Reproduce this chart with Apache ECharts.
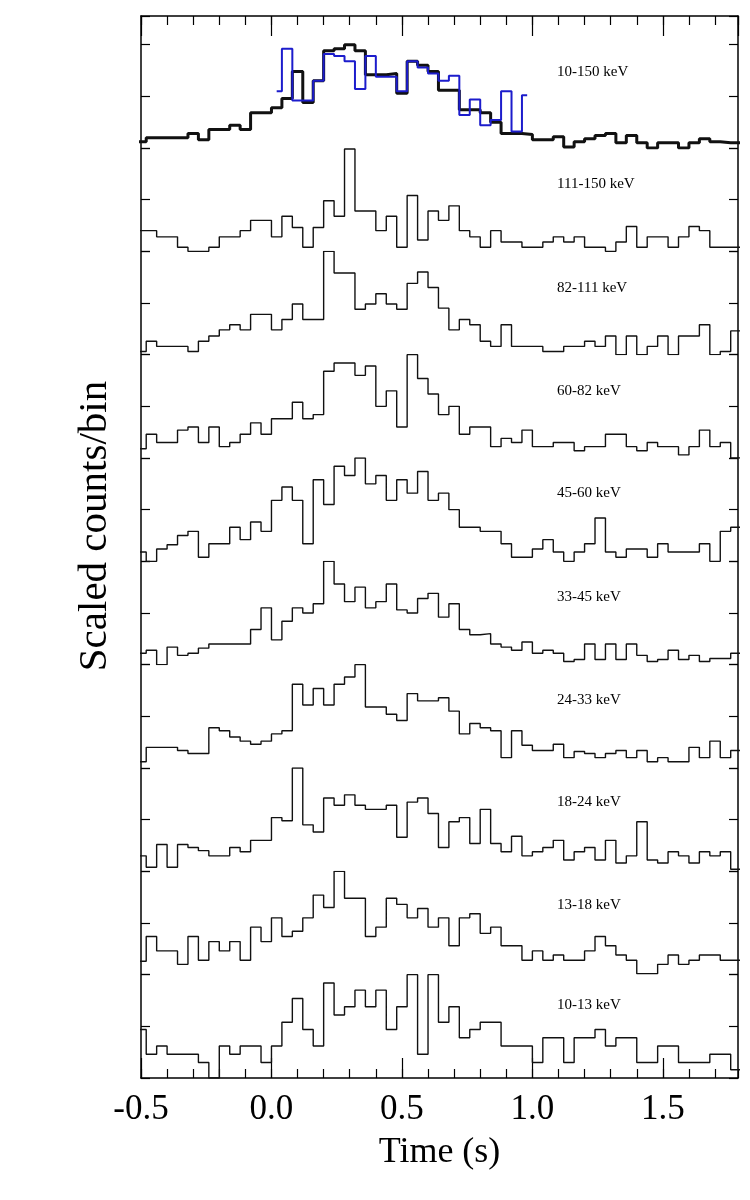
<!DOCTYPE html>
<html><head><meta charset="utf-8">
<script src="https://cdn.jsdelivr.net/npm/echarts@6/dist/echarts.min.js"></script>
<style>html,body{margin:0;padding:0;background:#fff}#c{width:750px;height:1200px}</style>
</head><body><div id="c"></div>
<script>
// ---- data ----
const binStart = -0.52;      // left edge of first bin (s)
const binWidth = 0.04;       // bin width (s)
const blueStart = 0.02;      // centre of first bin of the blue curve (s)
const bandLabels = ['10-150 keV','111-150 keV','82-111 keV','60-82 keV','45-60 keV','33-45 keV','24-33 keV','18-24 keV','13-18 keV','10-13 keV'];
const xTickLabels = ['-0.5','0.0','0.5','1.0','1.5'];
const xTitle = 'Time (s)';
const yTitle = 'Scaled counts/bin';

const lc_10_150 = [6,10,10,10,10,14,8,18,18,22,18,34,34,39,48,74,44,65,94,96,100,94,71,71,72,53,84,80,74,56,56,37,37,34,25,14,14,13,8,8,11,1,6,9,12,14,5,12,5,0,5,5,0,5,9,6,5,5];
const blue_10_150 = [55,96,46,46,65,91,89,84,57,89,69,69,55,84,78,72,65,70,32,47,22,27,55,16,51];
const lc_111_150 = [20,20,14,14,4,0,0,4,14,14,20,30,30,14,34,23,4,23,49,34,99,39,39,20,34,4,54,11,39,30,44,20,14,4,20,9,9,4,4,9,14,9,14,4,4,0,9,24,4,14,14,4,14,24,20,4,4,4];
const lc_82_111 = [3,13,8,8,8,3,13,18,24,29,24,39,39,24,34,49,34,34,100,79,79,44,49,59,49,44,69,80,65,45,24,34,29,13,8,29,8,8,8,3,3,8,8,13,8,18,0,18,0,8,18,0,18,18,29,0,3,23];
const lc_60_82 = [9,23,15,15,27,30,15,30,11,15,23,34,23,38,38,54,38,42,84,92,92,80,89,50,65,30,100,77,62,42,50,23,30,30,11,19,15,27,11,11,15,15,7,11,11,23,23,11,7,15,11,11,3,11,27,11,15,0];
const lc_45_60 = [9,0,12,16,25,29,4,17,17,33,21,38,29,59,72,59,17,79,55,92,83,100,75,83,59,79,66,87,59,66,50,33,33,29,29,17,4,4,12,21,9,0,9,17,42,9,4,12,12,4,17,9,9,9,17,0,29,33];
const lc_33_45 = [11,14,0,17,9,11,16,20,20,20,20,34,55,24,42,55,50,59,100,78,61,75,55,61,78,53,50,64,69,46,59,34,29,30,20,17,14,22,11,14,11,3,5,20,5,20,5,20,9,3,5,14,5,9,3,6,6,11];
const lc_24_33 = [6,20,20,20,17,14,14,39,36,30,26,23,26,33,36,81,61,77,61,81,88,100,59,59,52,46,72,65,65,68,55,33,43,39,36,10,36,22,17,17,23,10,16,14,10,14,17,10,17,6,10,6,6,20,10,26,10,17];
const lc_18_24 = [15,4,26,4,26,23,20,15,15,23,19,30,30,52,49,100,45,38,71,64,74,64,60,60,64,33,67,71,56,23,48,52,27,60,27,19,34,15,19,23,30,11,19,23,11,30,8,15,48,11,8,19,15,8,19,15,19,2];
const lc_13_18 = [13,37,23,23,10,37,14,32,23,32,14,46,32,55,37,42,55,77,65,100,74,74,37,46,74,68,55,64,46,55,28,55,59,40,46,28,28,14,23,14,19,14,14,23,37,28,19,14,1,1,10,19,10,14,19,19,14,14];
const lc_10_13 = [47,23,31,23,23,23,15,0,31,23,31,31,15,31,54,77,47,31,92,61,69,85,69,85,47,69,100,23,100,54,69,39,47,54,54,31,31,31,15,39,39,15,39,39,47,31,39,39,15,15,31,31,15,15,15,23,23,8];

const panels = [lc_10_150, lc_111_150, lc_82_111, lc_60_82, lc_45_60, lc_33_45, lc_24_33, lc_18_24, lc_13_18, lc_10_13];

// ---- layout ----
const FONT = '"Liberation Serif","Times New Roman",serif';
const L = 141, R = 750 - 738, T = 16, B = 1078;
const XMIN = -0.5, XMAX = 1.788;
const topH = 132;
const ph = (B - (T + topH)) / 9;
const labelY = [72, 184, 288, 391, 493, 597, 700, 802, 905, 1005];
const labelX = 557;

function histData(vals) {
  const d = vals.map((v, i) => [+(binStart + i * binWidth).toFixed(4), v]);
  d.push([+(binStart + vals.length * binWidth).toFixed(4), vals[vals.length - 1]]);
  return d;
}

const grids = [{left: L, right: R, top: T, bottom: 1200 - B}];
const xAxes = [
  {gridIndex: 0, type: 'value', position: 'bottom', min: XMIN, max: XMAX, interval: 0.1,
   axisLine: {show: true, onZero: false, lineStyle: {color: '#000', width: 1.5}},
   axisTick: {inside: true, length: 9, lineStyle: {color: '#000', width: 1.2}},
   axisLabel: {show: false}, splitLine: {show: false}},
  {gridIndex: 0, type: 'value', position: 'bottom', min: XMIN, max: XMAX, interval: 0.5,
   axisLine: {show: false, onZero: false},
   axisTick: {inside: true, length: 20, lineStyle: {color: '#000', width: 1.2}},
   axisLabel: {show: true, showMaxLabel: false, margin: 14, color: '#000', fontFamily: FONT, fontSize: 35,
     formatter: v => { const i = Math.round((v - XMIN) / 0.5); return xTickLabels[i] || ''; }},
   splitLine: {show: false},
   name: xTitle, nameLocation: 'middle', nameGap: 57,
   nameTextStyle: {color: '#000', fontFamily: FONT, fontSize: 36}},
  {gridIndex: 0, type: 'value', position: 'top', min: XMIN, max: XMAX, interval: 0.1,
   axisLine: {show: true, onZero: false, lineStyle: {color: '#000', width: 1.5}},
   axisTick: {inside: true, length: 9, lineStyle: {color: '#000', width: 1.2}},
   axisLabel: {show: false}, splitLine: {show: false}},
  {gridIndex: 0, type: 'value', position: 'top', min: XMIN, max: XMAX, interval: 0.5,
   axisLine: {show: false, onZero: false},
   axisTick: {inside: true, length: 20, lineStyle: {color: '#000', width: 1.2}},
   axisLabel: {show: false}, splitLine: {show: false}}
];
const yAxes = [
  {gridIndex: 0, type: 'value', position: 'left', min: 0, max: 1,
   axisLine: {show: true, onZero: false, lineStyle: {color: '#000', width: 1.5}},
   axisTick: {show: false}, axisLabel: {show: false}, splitLine: {show: false}},
  {gridIndex: 0, type: 'value', position: 'right', min: 0, max: 1,
   axisLine: {show: true, onZero: false, lineStyle: {color: '#000', width: 1.5}},
   axisTick: {show: false}, axisLabel: {show: false}, splitLine: {show: false}}
];
const series = [];
const graphics = [
  {type: 'text', x: 95, y: 526, rotation: Math.PI / 2,
   style: {text: yTitle, fill: '#000', font: '41px ' + FONT, align: 'center', verticalAlign: 'middle'}}
];

panels.forEach((vals, p) => {
  const gi = p + 1;
  const top = p === 0 ? T : T + topH + (p - 1) * ph;
  const height = p === 0 ? topH : ph;
  const ymax = 100 * height / ph;
  grids.push({left: L, right: R, top: top, height: height});
  xAxes.push({gridIndex: gi, type: 'value', min: XMIN, max: XMAX, show: false, axisLine: {onZero: false}});
  const yBase = {gridIndex: gi, type: 'value', min: 0, max: ymax, interval: 50,
    axisLine: {show: false, onZero: false}, axisLabel: {show: false}, splitLine: {show: false},
    axisTick: {show: true, inside: true, length: 9, lineStyle: {color: '#000', width: 1.2}}};
  yAxes.push(Object.assign({position: 'left'}, yBase));
  yAxes.push(Object.assign({position: 'right'}, yBase));
  const xi = 4 + p, yi = 2 + 2 * p;
  series.push({
    type: 'line', xAxisIndex: xi, yAxisIndex: yi, step: 'end', showSymbol: false, symbol: 'none',
    data: histData(vals), clip: true,
    lineStyle: {color: '#111', width: p === 0 ? 3 : 1.4}, z: p === 0 ? 3 : 2
  });
  if (p === 0) {
    series.push({
      type: 'line', xAxisIndex: xi, yAxisIndex: yi, step: 'middle', showSymbol: false, symbol: 'none',
      data: blue_10_150.map((v, i) => [+(blueStart + i * binWidth).toFixed(4), v]), clip: true,
      lineStyle: {color: '#1c1ccc', width: 2}, z: 4
    });
  }
  graphics.push({type: 'text', x: labelX, y: labelY[p],
    style: {text: bandLabels[p], fill: '#000', font: '15px ' + FONT, verticalAlign: 'middle', align: 'left'}});
});

const chart = echarts.init(document.getElementById('c'));
chart.setOption({
  animation: false,
  backgroundColor: '#fff',
  grid: grids, xAxis: xAxes, yAxis: yAxes, series: series, graphic: graphics
});
</script></body></html>
